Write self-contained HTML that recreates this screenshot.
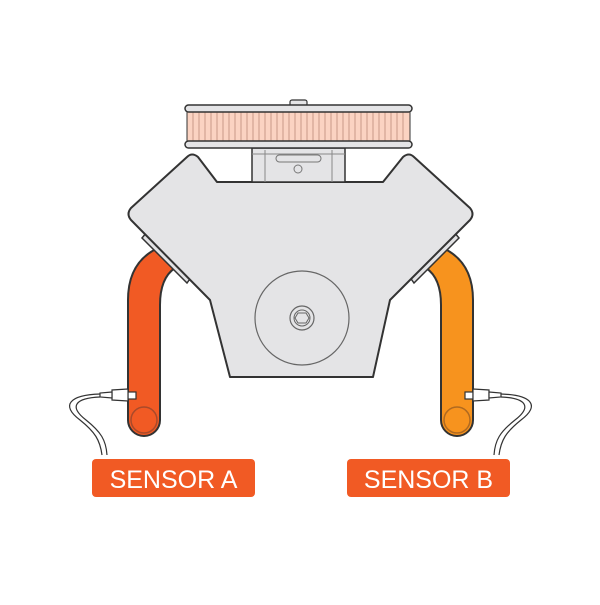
<!DOCTYPE html>
<html><head><style>html,body{margin:0;padding:0;background:#fff}</style></head>
<body>
<svg width="600" height="600" viewBox="0 0 600 600" xmlns="http://www.w3.org/2000/svg">
<!-- left pipe -->
<path d="M128,420 L128,300 Q128,262 158,248 L175,268 Q160,278 160,305 L160,420 A16,16 0 0 1 128,420 Z" fill="#f15a24" stroke="#333" stroke-width="2"/>
<circle cx="144" cy="420" r="13" fill="#f15a24" stroke="#a94a2a" stroke-width="1.5"/>
<!-- right pipe -->
<path d="M473,420 L473,300 Q473,262 443,248 L426,268 Q441,278 441,305 L441,420 A16,16 0 0 0 473,420 Z" fill="#f7931e" stroke="#333" stroke-width="2"/>
<circle cx="457" cy="420" r="13" fill="#f7931e" stroke="#b06a20" stroke-width="1.5"/>
<!-- flanges -->
<polygon points="142,238 147,232 192,276 187,283" fill="#e2e2e4" stroke="#333" stroke-width="1.5"/>
<polygon points="459,238 454,232 409,276 414,283" fill="#e2e2e4" stroke="#333" stroke-width="1.5"/>
<!-- engine -->
<path d="M187,157 Q192,152 198,157 L217,182 L383,182 L403,157 Q409,152 414,157 L470,208 Q475,214 470,220 L390,300 L373,377 L230,377 L210,300 L131,220 Q126,214 131,208 Z" fill="#e4e4e6" stroke="#333" stroke-width="2" stroke-linejoin="round"/>
<!-- block -->
<rect x="252" y="148" width="93" height="34" fill="#e4e4e6" stroke="#333" stroke-width="1.5"/>
<line x1="265" y1="150" x2="265" y2="182" stroke="#888"/>
<line x1="332" y1="150" x2="332" y2="182" stroke="#888"/>
<line x1="252" y1="154" x2="345" y2="154" stroke="#888"/>
<rect x="276" y="155" width="45" height="7" rx="3.5" fill="none" stroke="#777"/>
<circle cx="298" cy="169" r="4" fill="none" stroke="#777"/>
<!-- air filter -->
<rect x="290" y="100" width="17" height="6" rx="2" fill="#e4e4e6" stroke="#333" stroke-width="1.2"/>
<rect x="187" y="111" width="223" height="32" fill="#fbd3c2" stroke="#333" stroke-width="1"/>
<g stroke="#c89a88" stroke-width="1">
<path d="M193,111V143M199,111V143M205,111V143M211,111V143M217,111V143M223,111V143M229,111V143M235,111V143M241,111V143M247,111V143M253,111V143M259,111V143M265,111V143M271,111V143M277,111V143M283,111V143M289,111V143M295,111V143M301,111V143M307,111V143M313,111V143M319,111V143M325,111V143M331,111V143M337,111V143M343,111V143M349,111V143M355,111V143M361,111V143M367,111V143M373,111V143M379,111V143M385,111V143M391,111V143M397,111V143M403,111V143"/>
</g>
<rect x="185" y="105" width="227" height="7" rx="3.5" fill="#e4e4e6" stroke="#333" stroke-width="1.5"/>
<rect x="185" y="141" width="227" height="7" rx="3.5" fill="#e4e4e6" stroke="#333" stroke-width="1.5"/>
<!-- crank -->
<circle cx="302" cy="318" r="47" fill="#e4e4e6" stroke="#666" stroke-width="1.2"/>
<circle cx="302" cy="318" r="12" fill="none" stroke="#666" stroke-width="1.2"/>
<circle cx="302" cy="318" r="8" fill="none" stroke="#666" stroke-width="1"/>
<polygon points="298,313 306,313 309,318 306,323 298,323 295,318" fill="none" stroke="#666"/>
<!-- sensor A -->
<g fill="#fff" stroke="#333" stroke-width="1.2">
<rect x="128" y="392" width="8" height="7"/>
<polygon points="128,389 112,390 112,400 128,401"/>
<polygon points="112,392 100,393 100,397 112,398"/>
</g>
<path d="M100,394 C70,395 60,405 80,420 C95,432 100,440 102,455" fill="none" stroke="#333" stroke-width="1.2"/>
<path d="M100,397 C76,398 68,406 86,420 C101,432 106,440 107,455" fill="none" stroke="#333" stroke-width="1.2"/>
<!-- sensor B -->
<g fill="#fff" stroke="#333" stroke-width="1.2">
<rect x="465" y="392" width="8" height="7"/>
<polygon points="473,389 489,390 489,400 473,401"/>
<polygon points="489,392 501,393 501,397 489,398"/>
</g>
<path d="M501,394 C531,395 541,405 521,420 C506,432 501,440 499,455" fill="none" stroke="#333" stroke-width="1.2"/>
<path d="M501,397 C525,398 533,406 515,420 C500,432 495,440 494,455" fill="none" stroke="#333" stroke-width="1.2"/>
<!-- labels -->
<rect x="92" y="459" width="163" height="38" rx="4" fill="#f15a24"/>
<text x="173.5" y="488" font-family="Liberation Sans, sans-serif" font-size="25" fill="#fff" text-anchor="middle">SENSOR A</text>
<rect x="347" y="459" width="163" height="38" rx="4" fill="#f15a24"/>
<text x="428.5" y="488" font-family="Liberation Sans, sans-serif" font-size="25" fill="#fff" text-anchor="middle">SENSOR B</text>
</svg>
</body></html>
